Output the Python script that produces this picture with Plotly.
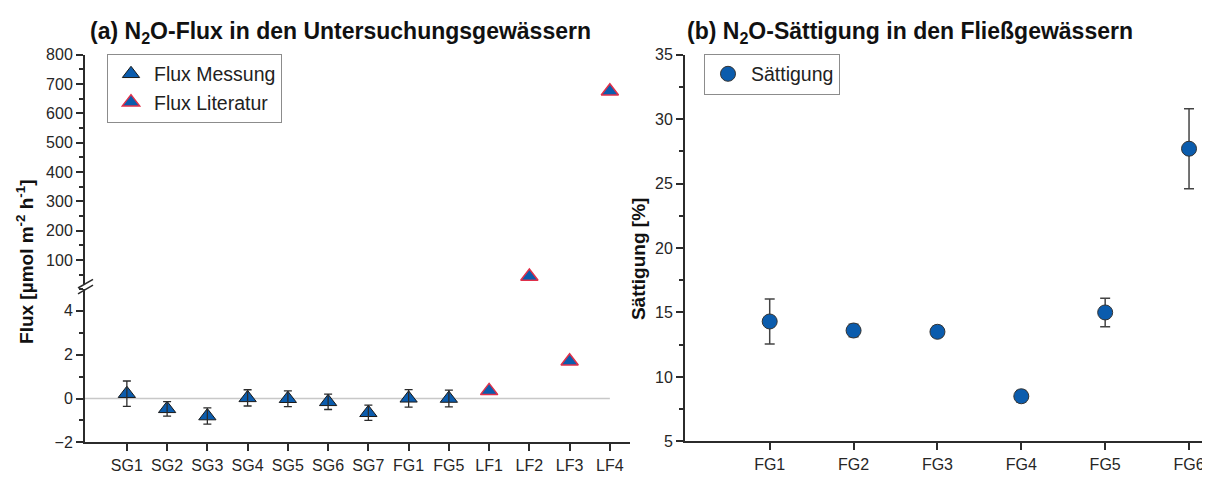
import plotly.graph_objects as go

# --- data ---
flux_sites = ["SG1", "SG2", "SG3", "SG4", "SG5", "SG6", "SG7", "FG1", "FG5", "LF1", "LF2", "LF3", "LF4"]

mess_sites = ["SG1", "SG2", "SG3", "SG4", "SG5", "SG6", "SG7", "FG1", "FG5"]
mess_flux = [0.22, -0.47, -0.80, 0.03, -0.01, -0.15, -0.65, 0.01, 0.0]
mess_err = [0.58, 0.33, 0.37, 0.37, 0.36, 0.35, 0.35, 0.40, 0.38]

lit_sites = ["LF1", "LF2", "LF3", "LF4"]
lit_flux = [0.35, 44, 1.7, 675]

sat_sites = ["FG1", "FG2", "FG3", "FG4", "FG5", "FG6"]
sat_vals = [14.3, 13.6, 13.5, 8.5, 15.0, 27.7]
sat_err = [1.75, 0.48, 0.42, 0.45, 1.1, 3.1]

lower_max = 5  # top of the lower (broken) flux axis

W, H = 1210, 480
OFF = 8  # the page body adds an 8px margin round the figure
FONT = "Liberation Sans, Arial, sans-serif"
BLUE = "#0b5cad"
RED = "#e0304a"
AXC = "#2b2b2b"


def px_x(p):
    return (p - OFF) / W


def px_y(p):
    return 1 - (p - OFF) / H


fig = go.Figure()

fig.add_trace(go.Scatter(
    x=mess_sites, y=mess_flux, mode="markers", name="Flux Messung",
    xaxis="x", yaxis="y", legend="legend",
    marker=dict(symbol="triangle-up", size=15, color=BLUE,
                line=dict(color="#1a1a1a", width=1)),
))
# error bars drawn over the triangles, as in the original
fig.add_trace(go.Scatter(
    x=mess_sites, y=mess_flux, mode="markers", showlegend=False, hoverinfo="skip",
    xaxis="x", yaxis="y", marker=dict(size=1, opacity=0),
    error_y=dict(type="data", array=mess_err, color="#2b2b2b", thickness=1.3, width=4),
))

lo_x = [s for s, v in zip(lit_sites, lit_flux) if v <= lower_max]
lo_y = [v for v in lit_flux if v <= lower_max]
hi_x = [s for s, v in zip(lit_sites, lit_flux) if v > lower_max]
hi_y = [v for v in lit_flux if v > lower_max]

lit_marker = dict(symbol="triangle-up", size=15, color=BLUE, line=dict(color=RED, width=1.5))

fig.add_trace(go.Scatter(
    x=lo_x, y=lo_y, mode="markers", name="Flux Literatur",
    xaxis="x", yaxis="y", legend="legend", marker=lit_marker,
))
fig.add_trace(go.Scatter(
    x=hi_x, y=hi_y, mode="markers", name="Flux Literatur", showlegend=False,
    xaxis="x", yaxis="y2", marker=lit_marker,
))

fig.add_trace(go.Scatter(
    x=sat_sites, y=sat_vals, mode="markers", name="Sättigung",
    xaxis="x2", yaxis="y3", legend="legend2",
    marker=dict(symbol="circle", size=15, color=BLUE, line=dict(color="#333333", width=1)),
    error_y=dict(type="data", array=sat_err, color="#444444", thickness=1.5, width=5),
))

axis_common = dict(
    showline=True, linecolor=AXC, linewidth=2, mirror=False,
    ticks="outside", ticklen=7, tickwidth=1.5, tickcolor=AXC,
    showgrid=False, zeroline=False,
    tickfont=dict(family=FONT, size=16, color="#262626"),
)
minor_common = dict(ticklen=4, tickwidth=1.5, tickcolor=AXC)

fig.update_layout(
    width=W, height=H,
    margin=dict(l=0, r=0, t=0, b=0),
    paper_bgcolor="white", plot_bgcolor="white",
    font=dict(family=FONT, color="#222222"),
    xaxis=dict(axis_common, domain=[px_x(85), px_x(630)], anchor="y",
               type="category", categoryorder="array", categoryarray=flux_sites,
               range=[-1.04, 12.5]),
    yaxis=dict(axis_common, domain=[px_y(450), px_y(291)], anchor="x",
               range=[-2, lower_max], tick0=0, dtick=2,
               minor=dict(minor_common, dtick=1)),
    yaxis2=dict(axis_common, domain=[px_y(285.4), px_y(48)], anchor="x",
                range=[20, 800], tick0=0, dtick=100,
                minor=dict(minor_common, dtick=50)),
    xaxis2=dict(axis_common, domain=[px_x(685), px_x(1210)], anchor="y3",
                type="category", categoryorder="array", categoryarray=sat_sites,
                range=[-1.01, 5.25]),
    yaxis3=dict(axis_common, domain=[px_y(449), px_y(48)], anchor="x2",
                range=[5, 35], tick0=5, dtick=5,
                minor=dict(minor_common, dtick=2.5)),
    legend=dict(x=px_x(107), y=px_y(47), xanchor="left", yanchor="top",
                bgcolor="white", bordercolor="#8c8c8c", borderwidth=1,
                font=dict(family=FONT, size=19.5, color="#222222"),
                itemwidth=36, tracegroupgap=0),
    legend2=dict(x=px_x(704), y=px_y(47), xanchor="left", yanchor="top",
                 bgcolor="white", bordercolor="#8c8c8c", borderwidth=1,
                 font=dict(family=FONT, size=19.5, color="#222222"),
                 itemwidth=36),
    showlegend=True,
)

# zero reference line
fig.add_shape(type="line", xref="x", yref="y", x0=-1.04, x1=12, y0=0, y1=0,
              line=dict(color="#c8c8c8", width=1.5), layer="below")

# axis break marks
for dy in (0, 6):
    fig.add_shape(type="line", xref="paper", yref="paper",
                  x0=px_x(78), y0=px_y(290 + dy), x1=px_x(93), y1=px_y(281 + dy),
                  line=dict(color=AXC, width=1.5))

# panel titles
fig.add_annotation(text="<b>(a) N<sub>2</sub>O-Flux in den Untersuchungsgewässern</b>",
                   xref="paper", yref="paper", x=px_x(88), y=px_y(25),
                   xanchor="left", yanchor="middle", showarrow=False,
                   font=dict(family=FONT, size=23, color="#111111"))
fig.add_annotation(text="<b>(b) N<sub>2</sub>O-Sättigung in den Fließgewässern</b>",
                   xref="paper", yref="paper", x=px_x(685), y=px_y(25),
                   xanchor="left", yanchor="middle", showarrow=False,
                   font=dict(family=FONT, size=23, color="#111111"))

# axis titles
fig.add_annotation(text="<b>Flux [µmol m<sup>-2</sup> h<sup>-1</sup>]</b>",
                   xref="paper", yref="paper", x=px_x(25), y=px_y(263),
                   xanchor="center", yanchor="middle", textangle=-90, showarrow=False,
                   font=dict(family=FONT, size=19, color="#111111"))
fig.add_annotation(text="<b>Sättigung [%]</b>",
                   xref="paper", yref="paper", x=px_x(638), y=px_y(260),
                   xanchor="center", yanchor="middle", textangle=-90, showarrow=False,
                   font=dict(family=FONT, size=19, color="#111111"))

fig.write_html("out.html")
